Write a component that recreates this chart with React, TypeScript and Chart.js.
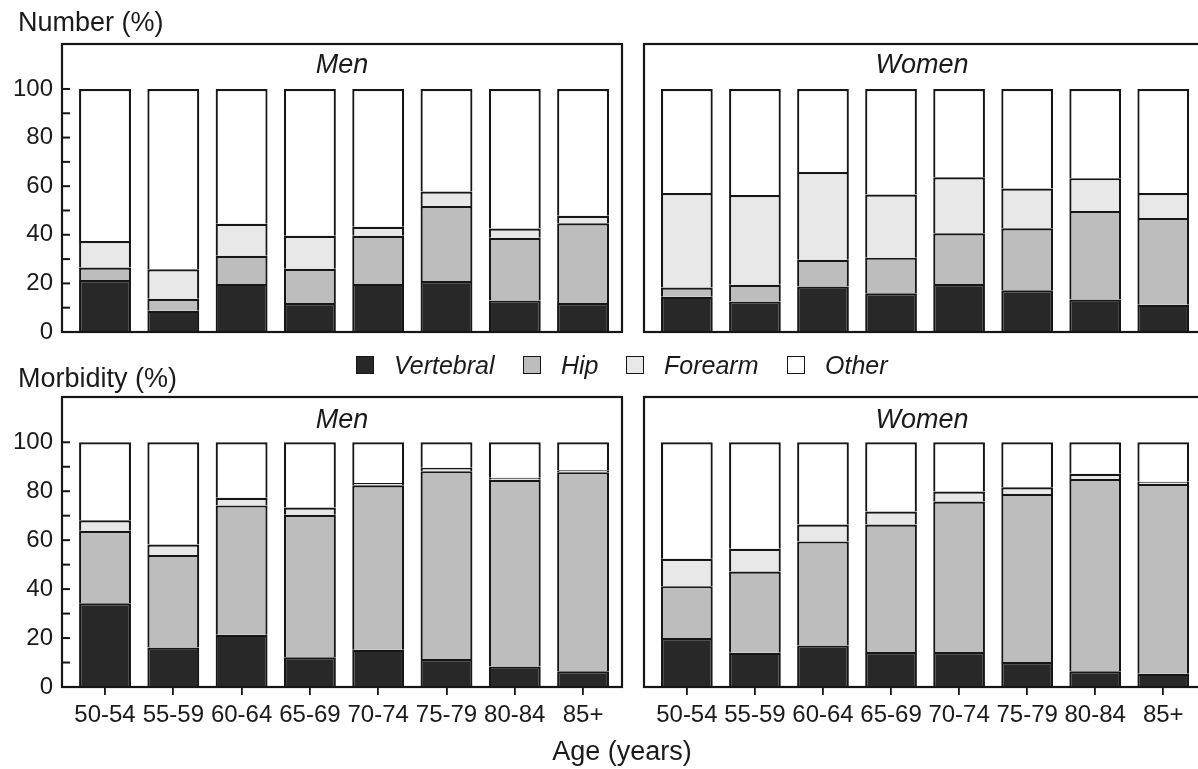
import React, { useEffect, useRef } from "react";
import { Chart, registerables } from "chart.js";
Chart.register(...registerables);

// ---------- DATA ----------
const ageGroups = ["50-54", "55-59", "60-64", "65-69", "70-74", "75-79", "80-84", "85+"];
const fractureTypes = ["Vertebral", "Hip", "Forearm", "Other"];
const yTickValues = [0, 20, 40, 60, 80, 100];

// Number (%) – Men (segment sizes, stacked bottom to top)
const numberMenVertebral = [21.4, 8.7, 19.8, 11.9, 19.8, 21.0, 13.0, 11.9];
const numberMenHip = [5.1, 5.0, 11.6, 14.1, 19.8, 30.8, 25.8, 32.8];
const numberMenForearm = [10.9, 12.1, 13.1, 13.6, 3.7, 6.0, 3.8, 3.1];
const numberMenOther = [62.6, 74.2, 55.5, 60.4, 56.7, 42.2, 57.4, 52.2];

// Number (%) – Women
const numberWomenVertebral = [14.5, 12.6, 18.7, 15.9, 19.7, 17.2, 13.4, 11.2];
const numberWomenHip = [3.8, 6.8, 11.0, 14.7, 20.9, 25.5, 36.4, 35.7];
const numberWomenForearm = [38.9, 37.0, 36.1, 26.0, 23.1, 16.3, 13.5, 10.3];
const numberWomenOther = [42.8, 43.6, 34.2, 43.4, 36.3, 41.0, 36.7, 42.8];

// Morbidity (%) – Men
const morbidityMenVertebral = [34.2, 16.1, 21.3, 12.2, 15.2, 11.4, 8.4, 6.4];
const morbidityMenHip = [29.6, 37.8, 52.9, 58.2, 67.2, 76.8, 76.3, 81.4];
const morbidityMenForearm = [4.3, 4.3, 3.1, 2.9, 1.0, 1.4, 0.8, 0.8];
const morbidityMenOther = [31.9, 41.8, 22.7, 26.7, 16.6, 10.4, 14.5, 11.4];

// Morbidity (%) – Women
const morbidityWomenVertebral = [20.0, 14.0, 17.0, 14.3, 14.3, 10.2, 6.4, 5.4];
const morbidityWomenHip = [21.2, 33.2, 42.5, 52.1, 61.5, 68.7, 78.6, 77.6];
const morbidityWomenForearm = [11.2, 9.3, 6.9, 5.3, 4.1, 2.7, 2.1, 0.9];
const morbidityWomenOther = [47.6, 43.5, 33.6, 28.3, 20.1, 18.4, 12.9, 16.1];

// ---------- STYLE ----------
const typeColors = ["#282828", "#bdbdbd", "#e8e8e8", "#ffffff"];
const ink = "#161616";
const FONT = "'Liberation Sans', Arial, Helvetica, sans-serif";

type Frame = { left: number; top: number; right: number; bottom: number };

type PanelProps = {
  series: number[][];
  frame: Frame;
  showY: boolean;
  showX: boolean;
  xMin: number;
  xMax: number;
};

const framePlugin = {
  id: "framePlugin",
  afterDatasetsDraw(chart: any, _args: any, opts: any) {
    const { ctx, chartArea } = chart;
    ctx.save();
    ctx.strokeStyle = ink;
    ctx.lineWidth = 2.2;
    ctx.strokeRect(chartArea.left, chartArea.top, chartArea.right - chartArea.left, chartArea.bottom - chartArea.top);
    if (opts && opts.innerTicks) {
      const y = chart.scales.y;
      ctx.lineWidth = 2;
      for (let v = 10; v <= 100; v += 10) {
        const py = y.getPixelForValue(v);
        ctx.beginPath();
        ctx.moveTo(chartArea.left, py);
        ctx.lineTo(chartArea.left + 8, py);
        ctx.stroke();
      }
    }
    ctx.restore();
  },
};

function Panel({ series, frame, showY, showX, xMin, xMax }: PanelProps) {
  const ref = useRef<HTMLCanvasElement | null>(null);
  const padTop = 30;
  const padRight = 10;
  const padLeft = showY ? 0 : 10;
  const canvasLeft = showY ? 0 : frame.left - padLeft;
  const canvasTop = frame.top - padTop;
  const xAxisH = 45;
  const padBottom = showX ? 5 : 30;
  const width = frame.right - canvasLeft + padRight;
  const height = frame.bottom - frame.top + padTop + (showX ? xAxisH + padBottom : padBottom);

  useEffect(() => {
    if (!ref.current) return;
    const xScale: any = {
      type: "linear",
      stacked: true,
      min: xMin,
      max: xMax,
      offset: false,
      display: showX,
      border: { display: false },
      grid: {
        display: true,
        offset: false,
        drawOnChartArea: false,
        drawTicks: true,
        tickLength: 8,
        color: ink,
        lineWidth: 1.8,
      },
      ticks: {
        stepSize: 1,
        includeBounds: false,
        autoSkip: false,
        maxRotation: 0,
        padding: 6,
        color: "#1a1a1a",
        font: { family: FONT, size: 24 },
        callback: (v: any) => (ageGroups[v as number] ?? ""),
      },
    };
    if (showX) {
      xScale.afterFit = (s: any) => {
        s.height = xAxisH;
      };
    }
    const yScale: any = {
      type: "linear",
      stacked: true,
      min: 0,
      max: 118.5,
      display: showY,
      border: { display: false },
      grid: { display: false, drawTicks: false },
      ticks: {
        stepSize: 20,
        includeBounds: false,
        padding: 9,
        color: "#1a1a1a",
        font: { family: FONT, size: 24 },
        callback: (v: any) => (yTickValues.includes(v as number) ? String(v) : ""),
      },
    };
    if (showY) {
      yScale.afterFit = (s: any) => {
        s.width = frame.left;
      };
    }
    const chart = new Chart(ref.current, {
      type: "bar",
      data: {
        datasets: series.map((vals, k) => ({
          label: fractureTypes[k],
          data: vals.map((v, i) => ({ x: i, y: v })),
          backgroundColor: typeColors[k],
          borderColor: ink,
          borderWidth: 2.2,
          barPercentage: 0.76,
          categoryPercentage: 1,
        })),
      },
      options: {
        animation: false,
        responsive: false,
        maintainAspectRatio: false,
        layout: { padding: { top: padTop, right: padRight, left: padLeft, bottom: padBottom } },
        plugins: {
          legend: { display: false },
          tooltip: { enabled: false },
          framePlugin: { innerTicks: showY },
        } as any,
        scales: { x: xScale, y: yScale },
      } as any,
      plugins: [framePlugin],
    });
    return () => chart.destroy();
  }, []);

  return (
    <canvas
      ref={ref}
      width={width}
      height={height}
      style={{ position: "absolute", left: canvasLeft, top: canvasTop, width, height }}
    />
  );
}

const textBase: React.CSSProperties = {
  position: "absolute",
  fontFamily: FONT,
  color: "#1a1a1a",
  whiteSpace: "nowrap",
  lineHeight: 1,
};

function Label({ x, y, size, italic, center, children }: any) {
  return (
    <div
      style={{
        ...textBase,
        left: x,
        top: y,
        fontSize: size,
        fontStyle: italic ? "italic" : "normal",
        transform: center ? "translate(-50%, -50%)" : "translate(0, -50%)",
      }}
    >
      {children}
    </div>
  );
}

function LegendItem({ x, color, text }: { x: number; color: string; text: string }) {
  return (
    <>
      <div
        style={{
          position: "absolute",
          left: x,
          top: 356,
          width: 18,
          height: 18,
          boxSizing: "border-box",
          background: color,
          border: `1.5px solid ${ink}`,
        }}
      />
      <Label x={x + 38} y={365} size={25} italic>
        {text}
      </Label>
    </>
  );
}

export default function App() {
  const topLeft: Frame = { left: 62, top: 44, right: 622, bottom: 332 };
  const topRight: Frame = { left: 644, top: 44, right: 1200, bottom: 332 };
  const botLeft: Frame = { left: 62, top: 397, right: 622, bottom: 687 };
  const botRight: Frame = { left: 644, top: 397, right: 1200, bottom: 687 };
  const legendX = [356, 523, 626, 787];

  return (
    <div
      style={{
        position: "absolute",
        left: 0,
        top: 0,
        width: 1198,
        height: 769,
        overflow: "hidden",
        background: "#ffffff",
      }}
    >
      <Panel
        series={[numberMenVertebral, numberMenHip, numberMenForearm, numberMenOther]}
        frame={topLeft}
        showY
        showX={false}
        xMin={-0.63}
        xMax={7.57}
      />
      <Panel
        series={[numberWomenVertebral, numberWomenHip, numberWomenForearm, numberWomenOther]}
        frame={topRight}
        showY={false}
        showX={false}
        xMin={-0.63}
        xMax={7.54}
      />
      <Panel
        series={[morbidityMenVertebral, morbidityMenHip, morbidityMenForearm, morbidityMenOther]}
        frame={botLeft}
        showY
        showX
        xMin={-0.63}
        xMax={7.57}
      />
      <Panel
        series={[morbidityWomenVertebral, morbidityWomenHip, morbidityWomenForearm, morbidityWomenOther]}
        frame={botRight}
        showY={false}
        showX
        xMin={-0.63}
        xMax={7.54}
      />

      <Label x={18} y={22} size={27}>Number (%)</Label>
      <Label x={18} y={378} size={27}>Morbidity (%)</Label>
      <Label x={342} y={64} size={27} italic center>Men</Label>
      <Label x={922} y={64} size={27} italic center>Women</Label>
      <Label x={342} y={419} size={27} italic center>Men</Label>
      <Label x={922} y={419} size={27} italic center>Women</Label>
      <Label x={622} y={751} size={27} center>Age (years)</Label>

      {fractureTypes.map((t, k) => (
        <LegendItem key={t} x={legendX[k]} color={typeColors[k]} text={t} />
      ))}
    </div>
  );
}
